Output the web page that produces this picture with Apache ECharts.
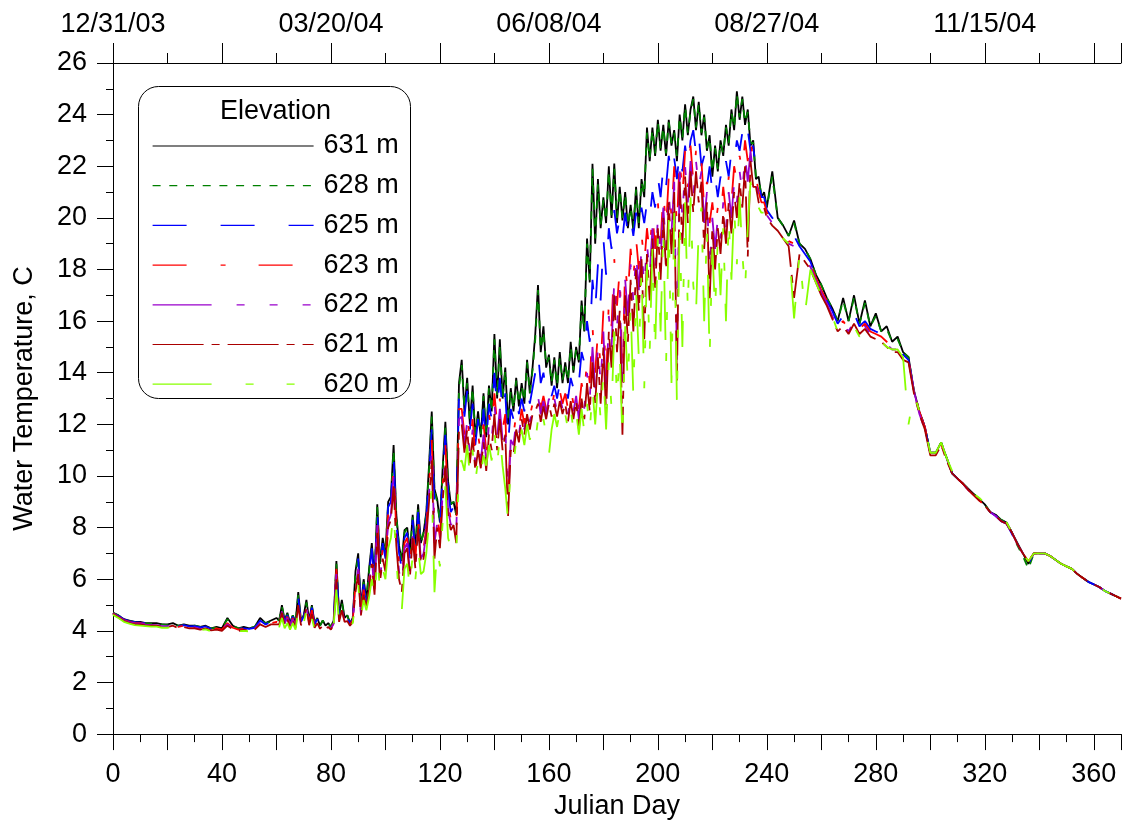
<!DOCTYPE html>
<html>
<head>
<meta charset="utf-8">
<title>Water Temperature by Elevation</title>
<script src="https://cdn.jsdelivr.net/npm/echarts@6.0.0/dist/echarts.min.js"></script>
<style>
  html, body { margin: 0; padding: 0; background: #fff; }
  #chart { width: 1124px; height: 825px; }
</style>
</head>
<body>
<div id="chart"></div>
<script>
// Sample days (Julian day); daily resolution through the warm, noisy season.
const days = [
  0,2,4,6,8,10,12,14,16,18,
  20,22,24,26,28,30,32,34,36,38,
  40,42,44,46,48,50,52,54,56,58,
  60,
  61,62,63,64,65,66,67,68,69,70,
  71,72,73,74,75,76,77,78,79,80,
  81,82,83,84,85,86,87,88,89,90,
  91,92,93,94,95,96,97,98,99,100,
  101,102,103,104,105,106,107,108,109,110,
  111,112,113,114,115,116,117,118,119,120,
  121,122,123,124,125,126,127,128,129,130,
  131,132,133,134,135,136,137,138,139,140,
  141,142,143,144,145,146,147,148,149,150,
  151,152,153,154,155,156,157,158,159,160,
  161,162,163,164,165,166,167,168,169,170,
  171,172,173,174,175,176,177,178,179,180,
  181,182,183,184,185,186,187,188,189,190,
  191,192,193,194,195,196,197,198,199,200,
  201,202,203,204,205,206,207,208,209,210,
  211,212,213,214,215,216,217,218,219,220,
  221,222,223,224,225,226,227,228,229,230,
  231,232,233,234,235,236,237,238,239,240,
  242,244,246,248,250,252,254,256,258,260,
  262,264,266,268,270,272,274,276,278,280,
  282,284,286,288,290,292,294,296,298,300,
  302,304,306,308,310,312,314,316,318,320,
  322,324,326,328,330,332,334,336,338,340,
  342,344,346,348,350,352,354,356,358,360,
  362,364,366,368,370
];

// Water temperature (C) per sensor elevation, aligned with days.
const t631 = [
  4.7,4.6,4.45,4.4,4.35,4.35,4.3,4.3,4.3,4.25,
  4.25,4.3,4.2,4.25,4.2,4.2,4.15,4.2,4.1,4.15,
  4.1,4.5,4.2,4.1,4.15,4.1,4.15,4.5,4.3,4.4,
  4.5,
  4.4,5.0,4.4,4.7,4.3,4.6,4.3,5.5,4.4,4.6,
  5.2,4.4,5.0,4.3,4.5,4.2,4.4,4.2,4.3,4.15,
  4.4,6.7,4.6,5.2,4.5,4.6,4.3,4.5,6.3,7.0,
  4.9,6.0,5.2,6.4,7.4,6.0,8.9,6.6,7.6,7.0,
  9.0,9.2,11.2,8.5,7.3,6.7,7.9,8.0,7.0,8.5,
  7.2,8.9,7.4,7.8,8.6,10.4,12.5,9.5,9.1,8.2,
  10.3,12.1,9.8,8.9,9.0,8.5,13.6,14.5,12.5,13.8,
  12.0,13.5,11.5,12.5,11.5,13.2,11.5,13.5,12.5,15.5,
  13.0,15.3,13.0,14.2,12.0,13.4,12.5,13.8,12.7,13.6,
  12.8,14.5,13.2,14.2,15.5,17.4,14.8,15.8,14.2,14.7,
  13.5,14.6,13.4,14.8,13.6,14.4,13.6,15.2,14.0,15.0,
  14.4,16.8,15.6,19.2,17.5,22.1,19.0,21.5,19.6,20.8,
  19.8,22.0,20.0,22.1,19.8,21.2,19.9,21.0,19.6,20.5,
  19.5,21.2,19.6,21.5,20.8,23.5,22.2,23.5,22.4,23.8,
  22.6,23.6,22.4,23.8,22.8,23.4,22.2,24.0,23.0,24.4,
  23.2,24.2,24.7,23.4,24.5,23.2,24.0,22.6,23.2,21.6,
  22.8,21.8,23.0,22.4,23.6,22.8,24.2,23.4,24.9,23.8,
  24.7,23.6,24.2,22.8,23.0,21.5,21.6,20.8,21.0,20.4,
  21.8,20.0,19.7,19.3,19.9,19.0,18.8,18.4,17.8,17.4,
  16.9,16.5,16.0,16.9,16.0,17.0,15.9,16.8,15.8,16.3,
  15.6,15.8,15.2,15.4,14.8,14.6,13.3,12.5,11.9,10.9,
  10.9,11.3,10.7,10.1,9.9,9.7,9.5,9.3,9.1,8.9,
  8.6,8.5,8.3,8.2,7.8,7.4,7.0,6.6,7.0,7.0,
  7.0,6.9,6.75,6.6,6.5,6.4,6.2,6.05,5.9,5.8,
  5.7,5.55,5.45,5.35,5.25
];

const t628 = [
  4.7,4.6,4.45,4.38,4.35,4.33,4.3,4.28,4.3,4.25,
  4.22,4.28,4.2,4.22,4.18,4.2,4.15,4.18,4.1,4.12,
  4.1,4.45,4.2,4.1,4.12,4.1,4.15,4.45,4.3,4.35,
  4.45,
  4.4,4.95,4.4,4.65,4.3,4.6,4.3,5.4,4.4,4.6,
  5.1,4.4,4.95,4.3,4.5,4.2,4.4,4.2,4.3,4.15,
  4.4,6.6,4.6,5.1,4.5,4.6,4.3,4.5,6.2,6.9,
  4.9,5.9,5.2,6.3,7.3,6.0,8.8,6.6,7.5,7.0,
  8.9,9.1,11.0,8.4,7.3,6.7,7.8,8.0,7.0,8.4,
  7.2,8.8,7.4,7.8,8.5,10.2,12.3,9.4,9.0,8.2,
  10.2,11.9,9.7,8.9,9.0,8.5,13.4,14.3,12.6,13.6,
  12.1,13.4,11.6,12.4,11.6,13.1,11.6,13.4,12.5,15.3,
  13.1,15.1,13.0,14.1,12.1,13.3,12.6,13.7,12.8,13.5,
  12.9,14.4,13.2,14.1,15.3,17.2,14.9,15.6,14.3,14.6,
  13.6,14.5,13.5,14.6,13.7,14.3,13.7,15.0,14.1,14.9,
  14.5,16.6,15.6,19.0,17.6,21.9,19.2,21.3,19.7,20.7,
  19.9,21.8,20.1,21.9,20.0,21.1,20.0,20.9,19.7,20.4,
  19.6,21.1,19.8,21.4,20.9,23.3,22.3,23.4,22.5,23.7,
  22.7,23.5,22.5,23.7,22.9,23.3,22.4,23.9,23.1,24.3,
  23.3,24.1,24.6,23.5,24.4,23.3,23.9,22.7,23.1,21.8,
  22.7,21.9,22.9,22.5,23.5,22.9,24.1,23.5,24.8,23.9,
  24.6,23.7,24.1,22.9,22.9,21.6,21.5,20.9,20.9,20.4,
  21.6,20.0,19.7,19.3,19.8,19.0,18.8,18.4,17.8,17.4,
  16.9,16.5,16.0,16.8,16.0,16.9,15.9,16.7,15.8,16.2,
  15.6,15.7,15.2,15.3,14.8,14.6,13.3,12.5,11.9,10.9,
  10.9,11.3,10.7,10.1,9.9,9.7,9.5,9.3,9.1,8.9,
  8.6,8.5,8.3,8.2,7.8,7.3,6.9,6.4,7.0,7.0,
  7.0,6.9,6.75,6.6,6.5,6.4,6.2,6.05,5.9,5.8,
  5.7,5.55,5.45,5.35,5.25
];

const t625 = [
  4.68,4.58,4.45,4.38,4.34,4.32,4.3,4.28,4.27,4.24,
  4.22,4.26,4.18,4.22,4.17,4.18,4.13,4.17,4.08,4.12,
  4.08,4.35,4.15,4.08,4.1,4.08,4.12,4.4,4.25,4.35,
  4.4,
  4.35,4.9,4.35,4.6,4.25,4.55,4.25,5.3,4.35,4.55,
  5.1,4.35,4.9,4.25,4.45,4.18,4.35,4.18,4.25,4.12,
  4.35,6.5,4.5,5.0,4.45,4.5,4.28,4.45,6.0,6.8,
  4.8,5.8,5.1,6.2,7.2,5.8,8.7,6.4,7.4,6.8,
  8.8,9.0,10.8,8.2,7.0,6.4,7.6,7.8,6.8,8.3,
  7.0,8.6,7.2,7.5,8.3,10.0,11.8,9.0,8.8,8.0,
  10.0,11.6,9.4,8.6,8.8,8.3,13.2,13.4,12.3,13.3,
  11.8,12.8,11.2,12.2,11.3,12.6,11.3,12.8,12.2,14.0,
  12.6,13.8,12.4,13.2,11.2,12.6,12.2,13.0,12.4,13.0,
  12.5,13.4,12.8,13.4,14.0,14.8,13.6,14.0,13.3,13.6,
  13.1,13.5,13.0,13.6,13.1,13.4,13.0,13.8,13.4,14.0,
  13.6,14.8,14.4,16.0,15.2,17.6,16.4,18.2,16.8,19.2,
  17.8,19.6,18.8,20.3,19.4,20.0,19.2,20.2,19.4,20.0,
  19.3,20.2,19.5,20.4,19.8,20.6,20.0,21.0,20.4,21.6,
  20.8,22.0,21.2,22.4,21.6,22.3,21.5,22.6,21.8,22.8,
  22.0,23.0,23.4,22.5,23.2,22.0,22.4,21.2,22.0,21.0,
  21.6,20.8,21.6,21.2,22.2,21.6,22.6,22.2,23.0,22.6,
  23.3,22.8,23.4,22.6,22.8,21.8,21.4,20.8,20.8,20.3,
  20.0,19.8,19.5,19.2,19.3,18.9,18.6,18.3,17.7,17.3,
  16.8,16.4,15.9,16.2,15.8,16.3,15.8,16.0,15.7,15.6,
  15.5,15.2,15.1,15.0,14.7,14.5,13.3,12.5,11.9,10.9,
  10.9,11.2,10.7,10.1,9.9,9.7,9.45,9.2,9.05,8.85,
  8.6,8.45,8.25,8.15,7.75,7.3,6.95,6.6,7.0,7.0,
  7.0,6.9,6.75,6.6,6.5,6.4,6.2,6.05,5.9,5.8,
  5.7,5.55,5.45,5.35,5.25
];

const t623 = [
  4.68,4.55,4.42,4.35,4.3,4.3,4.26,4.25,4.25,4.2,
  4.2,4.24,4.15,4.2,4.15,4.15,4.1,4.15,4.06,4.1,
  4.05,4.3,4.12,4.05,4.08,4.05,4.1,4.35,4.2,4.3,
  4.35,
  4.3,4.8,4.3,4.55,4.2,4.5,4.2,5.2,4.3,4.5,
  5.0,4.3,4.8,4.2,4.4,4.15,4.3,4.15,4.2,4.1,
  4.3,6.4,4.45,4.9,4.4,4.45,4.25,4.4,5.8,6.6,
  4.7,5.6,5.0,6.0,7.0,5.6,8.4,6.2,7.2,6.6,
  8.5,8.8,10.4,7.8,6.6,6.0,7.4,7.6,6.5,8.0,
  6.8,8.4,7.0,7.2,8.0,9.6,11.4,8.0,8.4,7.6,
  9.6,11.2,9.0,8.3,8.5,8.0,12.6,12.6,11.6,12.5,
  11.2,12.2,10.8,11.6,10.9,12.0,11.0,12.4,11.8,13.2,
  12.0,13.0,11.8,12.4,9.2,11.8,11.6,12.4,11.8,12.6,
  12.0,12.8,12.3,12.8,13.0,13.4,12.6,13.1,12.6,13.2,
  12.7,13.2,12.7,13.3,12.8,13.2,12.6,13.4,12.8,13.4,
  12.6,13.6,13.0,14.6,13.6,15.8,14.0,15.6,14.2,16.4,
  13.6,16.8,15.8,18.4,16.6,18.0,13.8,18.2,17.0,18.8,
  17.6,19.2,18.0,19.4,18.2,19.6,18.6,20.2,18.8,20.6,
  19.0,21.0,19.6,21.6,20.0,22.0,19.6,22.4,20.8,22.6,
  21.2,22.8,21.4,22.6,21.8,22.2,20.4,21.4,19.8,20.6,
  19.6,20.4,20.0,21.2,20.2,21.6,20.6,22.0,21.4,22.4,
  21.8,23.0,22.2,23.2,22.0,21.6,21.0,20.6,20.6,20.2,
  19.9,19.7,19.4,19.1,19.0,18.8,18.5,18.2,17.7,17.2,
  16.8,16.3,15.8,16.0,15.7,16.1,15.7,15.9,15.6,15.5,
  15.4,15.2,15.0,15.0,14.7,14.5,13.3,12.5,11.9,10.9,
  10.9,11.2,10.7,10.1,9.9,9.7,9.45,9.25,9.05,8.85,
  8.6,8.45,8.25,8.15,7.8,7.35,7.0,6.7,7.0,7.0,
  7.0,6.9,6.75,6.6,6.5,6.4,6.2,6.05,5.9,5.8,
  5.7,5.55,5.45,5.35,5.25
];

const t622 = [
  4.66,4.54,4.4,4.33,4.28,4.28,4.24,4.23,4.22,4.18,
  4.18,4.22,4.13,4.18,4.12,4.13,4.08,4.13,4.05,4.08,
  4.04,4.25,4.1,4.04,4.06,4.04,4.08,4.3,4.18,4.28,
  4.3,
  4.28,4.75,4.28,4.5,4.18,4.45,4.18,5.1,4.28,4.45,
  4.95,4.28,4.7,4.18,4.35,4.12,4.28,4.12,4.18,4.08,
  4.28,6.2,4.4,4.85,4.38,4.42,4.22,4.38,5.6,6.4,
  4.65,5.5,4.95,5.8,6.8,5.5,8.1,6.0,7.0,6.5,
  8.2,8.5,10.0,7.6,6.3,5.8,7.2,7.4,6.3,7.8,
  6.6,8.2,6.8,7.0,7.8,9.3,11.0,7.4,8.2,7.4,
  9.3,10.8,8.7,8.1,8.3,7.8,12.2,12.3,11.2,12.1,
  10.8,11.8,10.5,11.2,10.6,11.6,10.6,12.0,11.4,12.8,
  11.5,12.6,11.4,12.0,8.8,11.4,11.2,12.1,11.6,12.4,
  11.8,12.6,12.1,12.6,12.8,13.1,12.4,12.9,12.4,13.0,
  12.5,13.0,12.5,13.1,12.6,13.0,12.4,13.1,12.5,13.1,
  12.2,13.2,12.6,14.0,13.0,15.0,13.4,15.0,13.6,15.6,
  13.0,16.2,15.0,17.6,15.8,17.2,13.2,17.6,16.2,18.2,
  16.8,18.6,17.2,18.8,17.4,19.0,17.8,19.6,18.0,20.0,
  18.4,20.4,18.8,21.0,19.4,21.4,14.5,21.8,20.0,22.0,
  20.6,22.2,20.8,22.2,21.2,21.8,19.8,21.0,18.0,20.0,
  18.8,20.0,19.2,20.6,19.6,21.0,20.0,21.4,20.6,21.8,
  21.0,22.4,21.4,22.6,21.6,21.4,20.8,20.5,20.5,20.1,
  19.8,19.6,19.3,19.0,18.9,18.7,18.4,18.1,17.6,17.1,
  16.7,16.2,15.7,15.9,15.6,16.0,15.6,15.8,15.5,15.4,
  15.3,15.1,14.9,14.9,14.6,14.5,13.3,12.4,11.8,10.9,
  10.9,11.2,10.7,10.1,9.9,9.7,9.45,9.25,9.05,8.85,
  8.6,8.45,8.25,8.15,7.8,7.35,7.0,6.7,7.0,7.0,
  7.0,6.9,6.75,6.6,6.5,6.4,6.2,6.05,5.9,5.8,
  5.7,5.55,5.45,5.35,5.25
];

const t621 = [
  4.65,4.52,4.38,4.3,4.25,4.25,4.2,4.2,4.2,4.15,
  4.15,4.2,4.1,4.15,4.1,4.1,4.05,4.1,4.02,4.05,
  4.0,4.2,4.06,4.0,4.04,4.02,4.05,4.25,4.15,4.25,
  4.25,
  4.25,4.7,4.22,4.45,4.15,4.4,4.12,5.0,4.22,4.4,
  4.9,4.22,4.65,4.12,4.3,4.08,4.22,4.08,4.15,4.05,
  4.25,6.0,4.35,4.8,4.35,4.38,4.2,4.35,5.5,6.2,
  4.6,5.4,4.9,5.6,6.6,5.4,7.8,5.9,6.8,6.3,
  8.0,8.3,9.6,7.3,6.0,5.5,7.0,7.2,6.1,7.6,
  6.4,8.0,6.6,6.8,7.6,9.0,10.6,6.8,8.0,7.2,
  9.0,10.4,8.4,7.9,8.1,7.4,11.8,12.0,10.9,11.8,
  10.5,11.5,10.2,11.0,10.3,11.3,10.2,11.6,11.0,12.4,
  11.0,12.2,11.0,11.6,8.4,11.0,10.8,11.8,11.3,12.2,
  11.6,12.4,11.8,12.4,12.5,12.8,12.1,12.7,12.2,12.8,
  12.3,12.8,12.3,12.9,12.4,12.8,12.1,12.9,12.2,12.9,
  11.8,13.0,12.2,13.6,12.5,14.4,12.8,14.6,12.8,15.0,
  12.4,15.6,14.2,17.0,14.8,16.4,11.6,17.0,15.2,17.6,
  15.6,18.0,16.4,18.4,15.3,18.6,16.8,19.2,17.2,19.6,
  17.6,20.0,18.0,20.6,18.6,21.0,13.7,21.4,19.0,21.6,
  19.8,21.8,20.2,21.8,20.6,21.4,18.8,20.6,16.8,19.6,
  18.0,19.6,18.6,20.2,19.0,20.6,19.4,21.0,20.0,21.4,
  20.4,22.0,18.5,22.2,21.2,21.2,20.6,20.4,20.4,20.0,
  19.7,19.5,19.2,18.9,16.9,18.6,18.3,18.0,17.5,17.0,
  16.6,16.1,15.6,15.8,15.5,15.9,15.5,15.7,15.4,15.3,
  15.2,15.0,14.8,14.8,14.5,14.4,13.2,12.4,11.8,10.8,
  10.8,11.2,10.6,10.1,9.9,9.7,9.45,9.25,9.05,8.85,
  8.6,8.45,8.25,8.15,7.8,7.35,7.0,6.7,7.0,7.0,
  7.0,6.9,6.75,6.6,6.5,6.4,6.2,6.05,5.9,5.8,
  5.7,5.55,5.45,5.35,5.25
];

const t620 = [
  4.62,4.5,4.35,4.28,4.22,4.2,4.18,4.16,4.16,4.12,
  4.12,4.16,4.06,4.1,4.06,4.06,4.02,4.06,3.98,4.02,
  3.98,4.15,4.02,3.98,4.0,3.98,4.02,4.15,4.1,4.2,
  4.2,
  4.15,4.5,4.1,4.3,4.05,4.3,4.05,4.8,4.1,4.3,
  4.8,4.1,4.5,4.05,4.2,4.05,4.15,4.05,4.1,4.05,
  4.2,5.6,4.3,4.6,4.3,4.3,4.2,4.3,5.2,5.8,
  4.5,5.2,4.8,5.3,6.0,5.2,6.9,5.6,6.4,6.0,
  7.2,7.6,8.6,6.8,5.2,4.8,6.4,6.6,5.6,7.0,
  6.0,7.2,6.2,6.3,7.0,8.2,9.6,5.5,7.2,6.5,
  8.2,9.6,7.6,7.2,7.4,7.0,10.5,10.6,10.2,11.2,
  10.0,11.0,9.8,10.6,10.0,10.8,10.4,11.2,10.6,11.8,
  10.4,11.6,10.4,9.5,8.3,10.4,10.4,11.4,11.0,11.8,
  11.2,12.0,11.4,11.8,11.3,12.2,11.6,12.2,11.6,10.8,
  11.8,12.4,11.9,12.5,12.0,12.4,11.8,12.6,11.8,12.5,
  11.6,12.6,11.7,12.8,11.7,13.4,12.0,13.6,12.2,14.0,
  11.8,14.4,12.6,15.6,13.0,14.8,11.4,15.8,13.6,16.6,
  13.1,17.2,14.6,18.0,13.4,18.2,14.8,18.8,14.8,19.2,
  15.6,19.6,14.2,20.0,13.6,20.2,12.7,20.0,15.0,20.6,
  16.4,20.8,17.4,16.3,19.6,20.4,16.0,19.6,14.6,18.8,
  16.4,19.2,17.0,19.6,16.0,20.0,17.6,20.4,18.2,20.8,
  18.6,17.2,19.6,21.4,20.6,20.8,20.4,20.2,20.2,19.8,
  19.6,19.4,19.2,19.0,16.1,18.6,16.3,18.0,17.5,17.0,
  16.6,16.2,15.6,15.8,15.5,15.8,15.4,15.6,15.3,15.4,
  15.2,15.0,14.9,14.9,14.6,12.0,13.2,12.5,11.9,10.9,
  10.9,11.3,10.7,10.2,9.95,9.75,9.6,9.3,9.15,8.95,
  8.7,8.5,8.3,8.2,7.8,7.35,7.0,6.7,7.0,7.0,
  7.0,6.9,6.75,6.6,6.5,6.4,6.2,6.05,5.9,5.8,
  5.7,5.55,5.45,5.35,5.25
];

const elevations = ['631 m', '628 m', '625 m', '623 m', '622 m', '621 m', '620 m'];
const temps = [t631, t628, t625, t623, t622, t621, t620];

// Top axis: calendar dates at every 80 days
const dateTicks = [0, 80, 160, 240, 320];
const dateLabels = ['12/31/03', '03/20/04', '06/08/04', '08/27/04', '11/15/04'];

// Line look per elevation
const colors = ['#000000', '#008000', '#0000ff', '#ff0000', '#9900cc', '#aa0000', '#88ff00'];
const dashes = [
  'solid',
  [8, 8.7],
  [34, 34],
  [34, 34, 5, 33],
  [59, 25, 8, 25, 8, 25, 8, 25],
  [51, 8, 8, 8],
  [59, 34, 8, 33, 8, 33]
];

const FONT = "'Liberation Sans', Arial, Helvetica, sans-serif";
const FS = 27;

const chart = echarts.init(document.getElementById('chart'), null, { renderer: 'canvas' });

const series = elevations.map((name, k) => ({
  name: name,
  type: 'line',
  xAxisIndex: 0,
  yAxisIndex: 0,
  symbol: 'none',
  showSymbol: false,
  animation: false,
  silent: true,
  lineStyle: { color: colors[k], width: 1.8, type: dashes[k] },
  itemStyle: { color: colors[k] },
  data: days.map((d, i) => [d, temps[k][i]])
}));

// Legend entries carry their own stroke so the sample lines keep full colour
const legendData = elevations.map((name, k) => ({
  name: name,
  itemStyle: { opacity: 0 },
  lineStyle: { color: colors[k], width: 1.2, type: dashes[k], opacity: 1 }
}));

const axisBlack = { color: '#000', width: 1 };

const option = {
  backgroundColor: '#fff',
  animation: false,
  grid: { left: 113, right: 2, top: 63, bottom: 89, containLabel: false },
  xAxis: [
    {
      type: 'value', position: 'bottom', min: 0, max: 370, interval: 20,
      name: 'Julian Day', nameLocation: 'middle', nameGap: 58,
      nameTextStyle: { fontSize: FS, fontFamily: FONT, color: '#000' },
      axisLine: { show: true, onZero: false, lineStyle: axisBlack },
      axisTick: { show: true, inside: false, length: 16, lineStyle: axisBlack },
      minorTick: { show: true, splitNumber: 2, length: 8, lineStyle: axisBlack },
      splitLine: { show: false }, minorSplitLine: { show: false },
      axisLabel: {
        margin: 27, fontSize: FS, fontFamily: FONT, color: '#000',
        formatter: v => (v % 40 === 0 && v <= 360) ? String(v) : ''
      }
    },
    {
      type: 'value', position: 'top', min: 0, max: 370, interval: 40,
      axisLine: { show: true, onZero: false, lineStyle: axisBlack },
      axisTick: { show: true, inside: false, length: 20, lineStyle: axisBlack },
      minorTick: { show: true, splitNumber: 2, length: 10, lineStyle: axisBlack },
      splitLine: { show: false }, minorSplitLine: { show: false },
      axisLabel: {
        margin: 25, fontSize: FS, fontFamily: FONT, color: '#000',
        formatter: v => { const i = dateTicks.indexOf(v); return i >= 0 ? dateLabels[i] : ''; }
      }
    }
  ],
  yAxis: {
    type: 'value', min: 0, max: 26, interval: 2,
    name: 'Water Temperature, C', nameLocation: 'middle', nameRotate: 90, nameGap: 75,
    nameTextStyle: { fontSize: FS, fontFamily: FONT, color: '#000' },
    axisLine: { show: true, onZero: false, lineStyle: axisBlack },
    axisTick: { show: true, inside: false, length: 16, lineStyle: axisBlack },
    minorTick: { show: true, splitNumber: 2, length: 7, lineStyle: axisBlack },
    splitLine: { show: false }, minorSplitLine: { show: false },
    axisLabel: { margin: 26, fontSize: FS, fontFamily: FONT, color: '#000' }
  },
  legend: {
    show: true,
    orient: 'vertical',
    left: 147,
    top: 126,
    itemWidth: 161,
    itemHeight: 12,
    itemGap: 9.7,
    selectedMode: false,
    data: legendData,
    itemStyle: { opacity: 0 },
    textStyle: { fontSize: FS, fontFamily: FONT, color: '#000', lineHeight: 30, padding: [0, 0, 0, 5] }
  },
  graphic: [
    {
      type: 'rect', z: 100, silent: true,
      shape: { x: 138.5, y: 86.5, width: 272, height: 312, r: 20 },
      style: { fill: 'none', stroke: '#000', lineWidth: 1 }
    },
    {
      type: 'text', z: 100, silent: true, left: 220, top: 98,
      style: { text: 'Elevation', fontSize: FS, fontFamily: FONT, fill: '#000' }
    }
  ],
  series: series
};

chart.setOption(option);
</script>
</body>
</html>
